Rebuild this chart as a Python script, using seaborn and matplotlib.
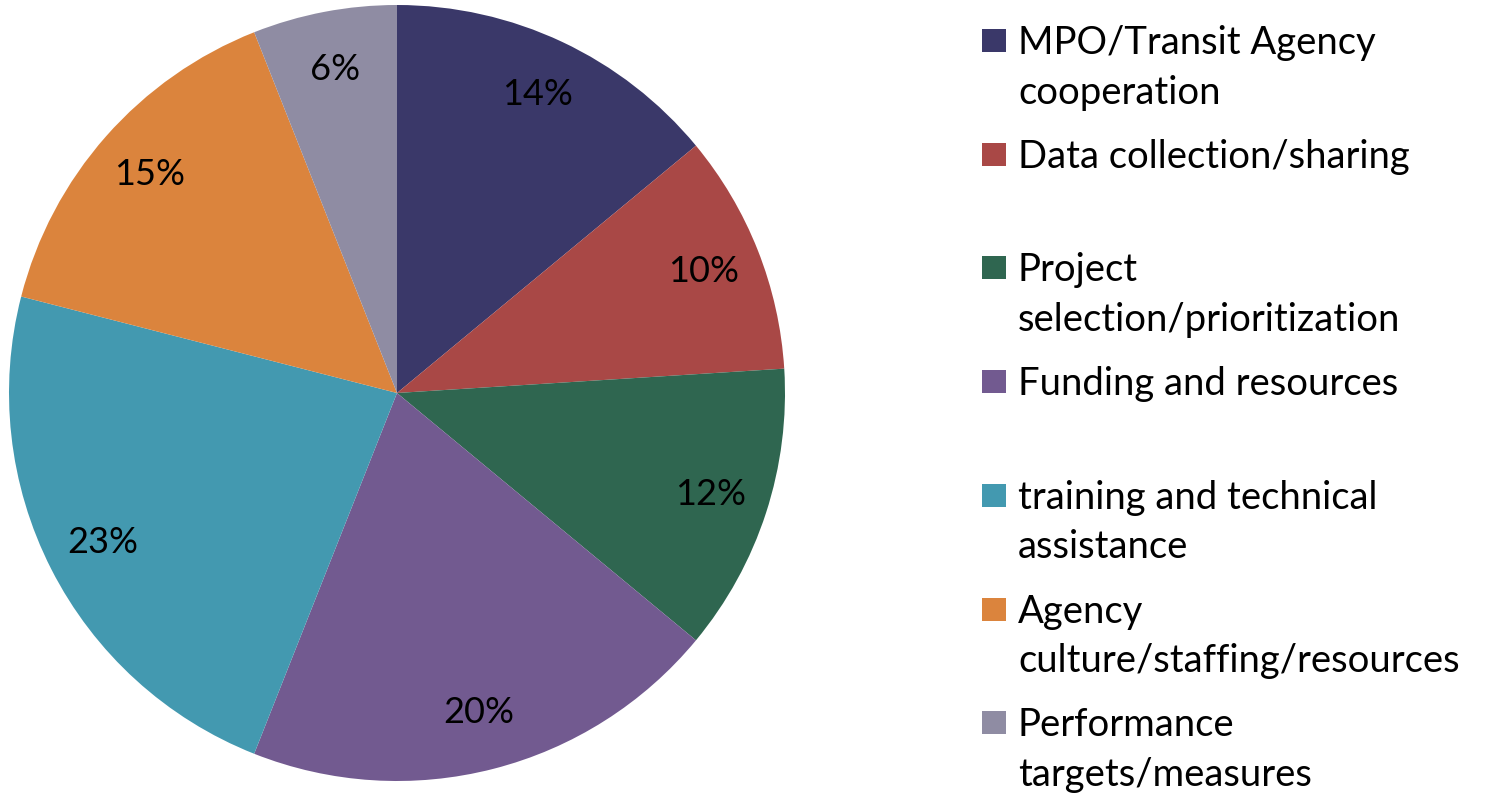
import matplotlib
matplotlib.use("Agg")
import matplotlib.pyplot as plt
import seaborn as sns

# data
categories = [
    "MPO/Transit Agency\ncooperation",
    "Data collection/sharing",
    "Project\nselection/prioritization",
    "Funding and resources",
    "training and technical\nassistance",
    "Agency\nculture/staffing/resources",
    "Performance\ntargets/measures",
]
shares = [14, 10, 12, 20, 23, 15, 6]
colors = ["#3A3869", "#A94846", "#2F6650", "#725A90", "#4399B0", "#DB843D", "#8F8CA3"]

sns.set_theme(style="white")
plt.rcParams["font.family"] = ["Lato", "DejaVu Sans"]

W, H = 1488, 796
fig = plt.figure(figsize=(W / 100, H / 100), dpi=100)

# pie: centre (397, 393), radius 388 px
cx, cy, r = 397, 393, 388
ax = fig.add_axes([(cx - r) / W, (H - cy - r) / H, 2 * r / W, 2 * r / H])
wedges, texts, autotexts = ax.pie(
    shares, colors=colors, startangle=90, counterclock=False, radius=1,
    autopct="%d%%", pctdistance=0.85,
    wedgeprops=dict(linewidth=0),
    textprops=dict(fontsize=26, color="black"),
)
ax.set_xlim(-1, 1)
ax.set_ylim(-1, 1)
ax.set_aspect("equal")
ax.axis("off")

# legend drawn by hand: each entry sits in a fixed slot, text top-aligned
slot_top = 29
slot_step = 113.7
for i, (lab, col) in enumerate(zip(categories, colors)):
    y = slot_top + i * slot_step
    fig.patches.append(plt.Rectangle((982 / W, 1 - (y + 23) / H), 24 / W, 23 / H,
                                     transform=fig.transFigure, color=col, lw=0))
    fig.text(1018 / W, 1 - (y - 4) / H, lab, fontsize=27.5, va="top", ha="left",
             linespacing=1.47, color="black")

fig.savefig("out.png", dpi=100)
